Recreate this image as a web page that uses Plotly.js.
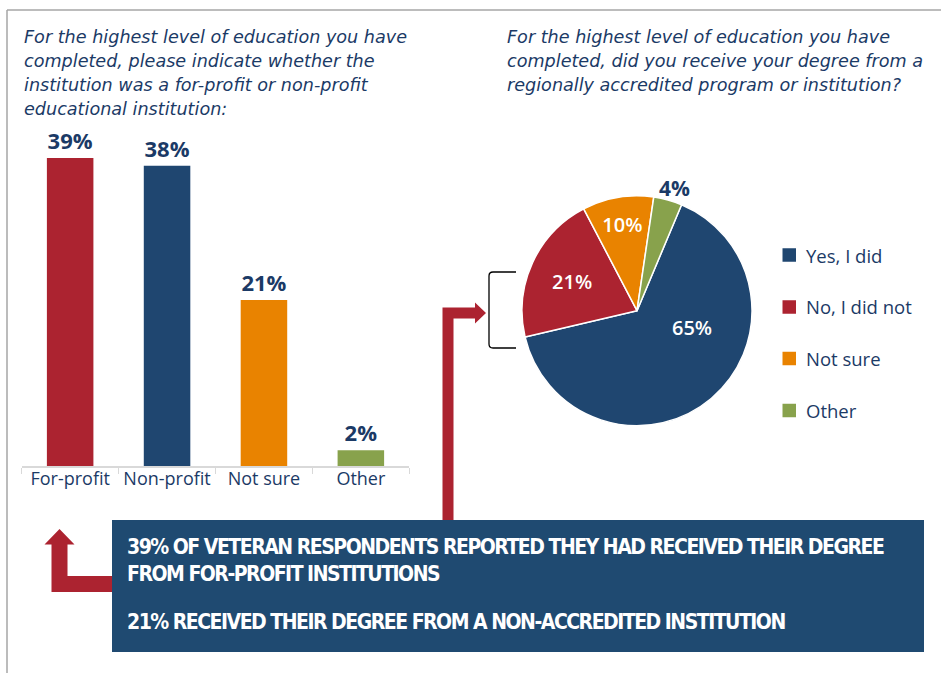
<!DOCTYPE html>
<html>
<head>
<meta charset="utf-8">
<script src="https://cdn.plot.ly/plotly-3.0.1.min.js"></script>
<style>
  html, body { margin: 0; padding: 0; background: #ffffff; }
  #chart { width: 941px; height: 673px; }
</style>
</head>
<body>
<div id="chart"></div>
<script>
// ---- Data ----
const barCategories = ["For-profit", "Non-profit", "Not sure", "Other"];
const barValues = [39, 38, 21, 2];
const barColors = ["#AC2330", "#1F4670", "#E98300", "#88A24C"];

const pieLabels = ["Yes, I did", "No, I did not", "Not sure", "Other"];
const pieValues = [65, 21, 10, 4];
const pieColors = ["#1F4670", "#AC2330", "#E98300", "#88A24C"];

const leftTitleLines = [
  "For the highest level of education you have",
  "completed, please indicate whether the",
  "institution was a for-profit or non-profit",
  "educational institution:"
];
const rightTitleLines = [
  "For the highest level of education you have",
  "completed, did you receive your degree from a",
  "regionally accredited program or institution?"
];
const calloutPara1 = ["39% OF VETERAN RESPONDENTS REPORTED THEY HAD RECEIVED THEIR DEGREE", "FROM FOR-PROFIT INSTITUTIONS"];
const calloutPara2 = ["21% RECEIVED THEIR DEGREE FROM A NON-ACCREDITED INSTITUTION"];

// ---- Layout helpers (pixel -> paper) ----
const W = 941, H = 673;
const px = x => x / W;
const py = y => 1 - y / H;
const navy = "#1B3A66";
const red = "#AC2330";
const font = "'Open Sans', 'Liberation Sans', sans-serif";
const titleFont = "'DejaVu Sans', 'Open Sans', sans-serif";
const condFont = "'DejaVu Sans Condensed', 'Liberation Sans Narrow', 'DejaVu Sans', sans-serif";

function pathFromPts(pts) {
  return "M " + pts.map(p => px(p[0]) + "," + py(p[1])).join(" L ") + " Z";
}
const tight = s => '<span style="letter-spacing:-1.5px">' + s + '</span>';

const barTrace = {
  type: "bar",
  x: barCategories,
  y: barValues,
  marker: { color: barColors },
  width: 0.48,
  text: barValues.map(v => v + "%"),
  textposition: "outside",
  cliponaxis: false,
  textfont: { family: font, size: 22, color: navy, weight: "bold" },
  hoverinfo: "skip",
  xaxis: "x", yaxis: "y",
  showlegend: false
};

// inside labels drawn by plotly for the small slices; the big slice and the
// tiny outside slice get annotations (see below)
const pieTrace = {
  type: "pie",
  labels: pieLabels,
  values: pieValues,
  sort: false,
  direction: "clockwise",
  rotation: 22.8,
  marker: { colors: pieColors, line: { color: "#ffffff", width: 1.5 } },
  texttemplate: pieValues.map((v, i) => (i === 1 || i === 2) ? "%{value}%" : ""),
  textinfo: "text",
  textposition: "inside",
  insidetextorientation: "horizontal",
  insidetextfont: { family: font, size: 20, color: "#ffffff", weight: 600 },
  domain: { x: [px(522), px(752)], y: [py(425.7), py(195.7)] },
  showlegend: false,
  hoverinfo: "skip"
};

// ---- Shapes ----
const shapes = [];
// frame
shapes.push({ type: "line", xref: "paper", yref: "paper", x0: px(7), x1: px(941), y0: py(10), y1: py(10), line: { color: "#A6A6A6", width: 1.5 } });
shapes.push({ type: "line", xref: "paper", yref: "paper", x0: px(7), x1: px(7), y0: py(10), y1: py(673), line: { color: "#A6A6A6", width: 1.5 } });
// bracket
shapes.push({
  type: "path", xref: "paper", yref: "paper",
  path: "M " + px(516) + "," + py(272) + " L " + px(493) + "," + py(272) +
        " Q " + px(489) + "," + py(272) + " " + px(489) + "," + py(276) +
        " L " + px(489) + "," + py(344) +
        " Q " + px(489) + "," + py(348) + " " + px(493) + "," + py(348) +
        " L " + px(516) + "," + py(348),
  line: { color: "#000000", width: 1.3 }
});
// right arrow (elbow up then right)
shapes.push({
  type: "path", xref: "paper", yref: "paper", layer: "above",
  path: pathFromPts([[442.5, 522], [442.5, 307.5], [475, 307.5], [475, 302.5], [486, 313], [475, 323.5], [475, 318.5], [453.5, 318.5], [453.5, 522]]),
  fillcolor: red, line: { width: 0 }
});
// left arrow (from box left, then up)
shapes.push({
  type: "path", xref: "paper", yref: "paper", layer: "above",
  path: pathFromPts([[59.5, 529], [74.5, 544.5], [67.5, 544.5], [67.5, 576], [114, 576], [114, 592], [51.5, 592], [51.5, 544.5], [44.5, 544.5]]),
  fillcolor: red, line: { width: 0 }
});
// callout box
shapes.push({ type: "rect", xref: "paper", yref: "paper", layer: "above", x0: px(112), x1: px(924), y0: py(652), y1: py(520), fillcolor: "#1F4A71", line: { width: 0 } });

const annotations = [];
// legend squares + labels
const legendY = [255, 307, 358.5, 410.5];
pieLabels.forEach((lab, i) => {
  shapes.push({ type: "rect", xref: "paper", yref: "paper", x0: px(782.5), x1: px(796), y0: py(legendY[i] + 6.75), y1: py(legendY[i] - 6.75), fillcolor: pieColors[i], line: { width: 0 } });
  annotations.push({ xref: "paper", yref: "paper", x: px(804), y: py(legendY[i]), xanchor: "left", yanchor: "middle", text: lab, showarrow: false, font: { family: font, size: 18.5, color: navy } });
});

// pie labels for big slice (inside) and small slice (outside)
annotations.push({ xref: "paper", yref: "paper", x: px(692), y: py(327), xanchor: "center", yanchor: "middle", text: pieValues[0] + "%", showarrow: false, font: { family: font, size: 20, color: "#ffffff", weight: 600 } });
annotations.push({ xref: "paper", yref: "paper", x: px(674), y: py(188), xanchor: "center", yanchor: "middle", text: pieValues[3] + "%", showarrow: false, font: { family: font, size: 21, color: navy, weight: "bold" } });

// titles (one annotation per line)
leftTitleLines.forEach((t, i) => {
  annotations.push({ xref: "paper", yref: "paper", x: px(22), y: py(36.7 + i * 24.2), xanchor: "left", yanchor: "middle", text: t, showarrow: false, font: { family: titleFont, size: 17.6, color: navy, style: "italic" } });
});
rightTitleLines.forEach((t, i) => {
  annotations.push({ xref: "paper", yref: "paper", x: px(505), y: py(36.7 + i * 24.2), xanchor: "left", yanchor: "middle", text: t, showarrow: false, font: { family: titleFont, size: 17.6, color: navy, style: "italic" } });
});
// callout text
annotations.push({ xref: "paper", yref: "paper", x: px(125), y: py((546.7 + 575) / 2), xanchor: "left", yanchor: "middle", align: "left", text: calloutPara1.map(tight).join("<br>"), showarrow: false, font: { family: condFont, size: 21, color: "#ffffff", weight: "bold" } });
annotations.push({ xref: "paper", yref: "paper", x: px(125), y: py(621.7), xanchor: "left", yanchor: "middle", align: "left", text: calloutPara2.map(tight).join("<br>"), showarrow: false, font: { family: condFont, size: 21, color: "#ffffff", weight: "bold" } });

const layout = {
  width: W, height: H, autosize: false,
  margin: { l: 0, r: 0, t: 0, b: 0, pad: 0 },
  paper_bgcolor: "#ffffff", plot_bgcolor: "rgba(0,0,0,0)",
  showlegend: false,
  xaxis: {
    domain: [px(21.7), px(409.3)],
    type: "category",
    showline: true, linecolor: "#D9D9D9", linewidth: 1.5,
    ticks: "outside", tickson: "boundaries", ticklen: 6, tickcolor: "#D9D9D9", tickwidth: 1.5,
    tickangle: 0, ticklabelstandoff: -4,
    tickfont: { family: font, size: 18, color: navy },
    showgrid: false, zeroline: false, fixedrange: true
  },
  yaxis: {
    domain: [py(466), py(466 - 45 * 7.9)],
    range: [0, 45],
    visible: false, showgrid: false, zeroline: false, fixedrange: true
  },
  shapes: shapes,
  annotations: annotations
};

Plotly.newPlot("chart", [barTrace, pieTrace], layout, { displayModeBar: false, staticPlot: true });
</script>
</body>
</html>
